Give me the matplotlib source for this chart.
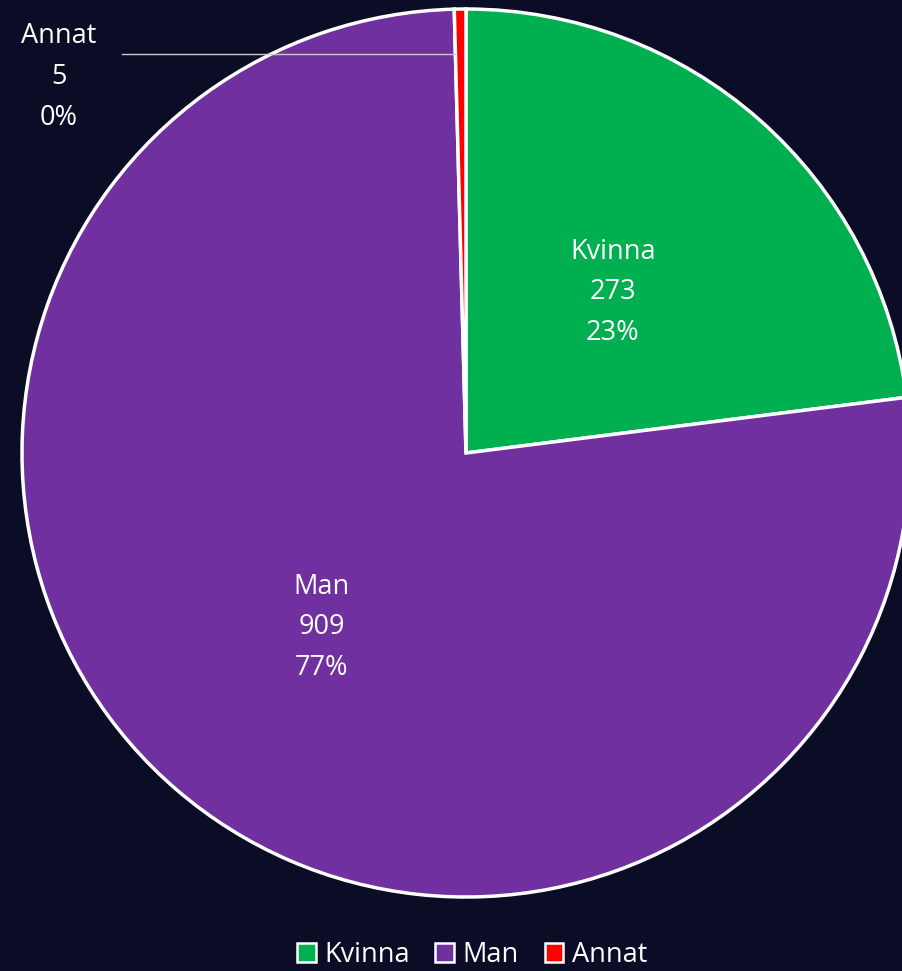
import numpy as np
import matplotlib
matplotlib.use("Agg")
import matplotlib.pyplot as plt
from matplotlib.patches import Patch

categories = ["Kvinna", "Man", "Annat"]
values = [273, 909, 5]
colors = ["#00b050", "#7030a0", "#ff0000"]

BG = "#0b0d26"
W, H = 903, 971
fig = plt.figure(figsize=(W / 100, H / 100), dpi=100, facecolor=BG)
plt.rcParams['font.family'] = ['Open Sans', 'DejaVu Sans']

cx, cy, r = 466, 453, 444
ax = fig.add_axes([(cx - r) / W, (H - cy - r) / H, 2 * r / W, 2 * r / H])
ax.set_facecolor(BG)
wedges, _ = ax.pie(values, colors=colors, startangle=90, counterclock=False,
                   radius=1, wedgeprops=dict(edgecolor="white", linewidth=2.5))
ax.set_xlim(-1, 1)
ax.set_ylim(-1, 1)
ax.set_aspect("equal")
ax.axis("off")

FS = 19.5
LS = 1.6
total = sum(values)
for i, (w, cat, v) in enumerate(zip(wedges, categories, values)):
    pct = f"{round(100 * v / total)}%"
    txt = f"{cat}\n{v}\n{pct}"
    if i < 2:
        mid = np.deg2rad((w.theta1 + w.theta2) / 2)
        ax.annotate(txt, xy=(0.5 * np.cos(mid), 0.5 * np.sin(mid)),
                    xytext=(0, -6), textcoords="offset pixels", color="white",
                    fontsize=FS, ha="center", va="center", linespacing=LS)
    else:
        # outside label with leader line
        lx, ly = (59 - cx) / r, (cy - 74) / r
        ax.annotate(txt, xy=(lx, ly), xytext=(0, -3), textcoords="offset pixels",
                    color="white", fontsize=FS, ha="center", va="center",
                    linespacing=LS, annotation_clip=False)
        y_line = (cy - 54) / r
        ax.plot([(122 - cx) / r, (455 - cx) / r], [y_line, y_line],
                color="#c8c8c8", linewidth=1, clip_on=False)

handles = [Patch(facecolor=c, edgecolor="white", linewidth=1.8) for c in colors]
leg = fig.legend(handles, categories, loc="center", bbox_to_anchor=(472 / W, 1 - 955 / H),
                 ncol=3, frameon=False, fontsize=FS, labelcolor="white",
                 handlelength=0.7, handleheight=0.7, handletextpad=0.3,
                 columnspacing=0.95)

fig.savefig("out.png", dpi=100, facecolor=BG)
